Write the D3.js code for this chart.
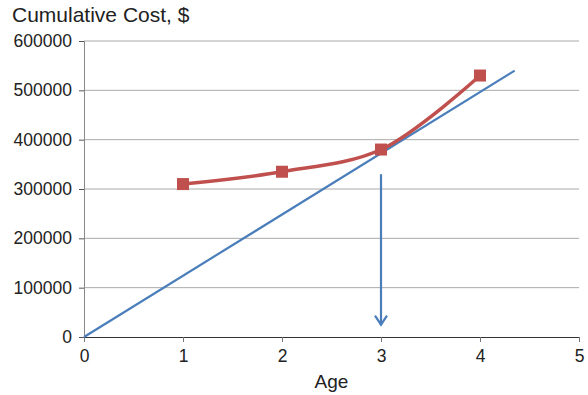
<!doctype html>
<html>
<head>
<script src="https://d3js.org/d3.v7.min.js"></script>
<style>
  body { margin: 0; background: #fff; }
  text { font-family: "Liberation Sans", Arial, sans-serif; fill: #222; }
</style>
</head>
<body>
<script>
// data
var ages = [1, 2, 3, 4];
var costs = [310000, 335000, 380000, 530000];
var lineX = [0, 4.35];
var lineY = [0, 540000];
var arrowX = [3, 3];
var arrowY = [330000, 25000];
var xTicks = [0, 1, 2, 3, 4, 5];
var yTicks = [0, 100000, 200000, 300000, 400000, 500000, 600000];

var width = 588, height = 395;
var plotLeft = 84, plotRight = 579, plotTop = 41, plotBottom = 337;

var svg = d3.select("body").append("svg")
    .attr("width", width)
    .attr("height", height);

var x = d3.scaleLinear().domain([0, 5]).range([plotLeft, plotRight]);
var y = d3.scaleLinear().domain([0, 600000]).range([plotBottom, plotTop]);

// gridlines
svg.append("g")
   .selectAll("line")
   .data(yTicks.filter(function(d) { return d > 0; }))
   .enter().append("line")
   .attr("x1", plotLeft).attr("x2", plotRight)
   .attr("y1", function(d) { return y(d); })
   .attr("y2", function(d) { return y(d); })
   .attr("stroke", "#aaa")
   .attr("stroke-width", 1);

// y axis
var yAxis = svg.append("g")
   .attr("transform", "translate(" + plotLeft + ",0)")
   .call(d3.axisLeft(y).tickValues(yTicks).tickSize(5).tickPadding(7).tickFormat(function(d) { return d; }));
yAxis.select(".domain").attr("stroke", "#888");
yAxis.selectAll(".tick line").attr("stroke", "#555");
yAxis.selectAll("text").attr("font-size", "17.5px").attr("fill", "#222");

// x axis
var xAxis = svg.append("g")
   .attr("transform", "translate(0," + plotBottom + ")")
   .call(d3.axisBottom(x).tickValues(xTicks).tickSize(5).tickPadding(8).tickFormat(d3.format("d")));
xAxis.select(".domain").attr("stroke", "#333");
xAxis.selectAll(".tick line").attr("stroke", "#777");
xAxis.selectAll("text").attr("font-size", "17.5px").attr("fill", "#222");

svg.append("text")
   .attr("x", 12)
   .attr("y", 22)
   .attr("font-size", "21px")
   .text("Cumulative Cost, $");

svg.append("text")
   .attr("x", x(2.5))
   .attr("y", 388)
   .attr("text-anchor", "middle")
   .attr("font-size", "19px")
   .text("Age");

// straight blue line
var blue = "#4a7ebb";
svg.append("line")
   .attr("x1", x(lineX[0])).attr("y1", y(lineY[0]))
   .attr("x2", x(lineX[1])).attr("y2", y(lineY[1]))
   .attr("stroke", blue)
   .attr("stroke-width", 2.2);

// arrow
svg.append("line")
   .attr("x1", x(arrowX[0])).attr("y1", y(arrowY[0]))
   .attr("x2", x(arrowX[1])).attr("y2", y(arrowY[1]))
   .attr("stroke", blue)
   .attr("stroke-width", 2.2);
var ax = x(arrowX[1]), ay = y(arrowY[1]);
svg.append("path")
   .attr("d", "M" + (ax - 6) + "," + (ay - 9) + "L" + ax + "," + ay + "L" + (ax + 6) + "," + (ay - 9))
   .attr("fill", "none")
   .attr("stroke", blue)
   .attr("stroke-width", 2.2);

// red cost curve
var red = "#c0504d";
var pts = ages.map(function(a, i) { return [a, costs[i]]; });
var line = d3.line()
    .x(function(d) { return x(d[0]); })
    .y(function(d) { return y(d[1]); })
    .curve(d3.curveCatmullRom.alpha(0.5));

svg.append("path")
   .datum(pts)
   .attr("d", line)
   .attr("fill", "none")
   .attr("stroke", red)
   .attr("stroke-width", 3.5);

svg.selectAll(".pt")
   .data(pts)
   .enter().append("rect")
   .attr("class", "pt")
   .attr("x", function(d) { return x(d[0]) - 6; })
   .attr("y", function(d) { return y(d[1]) - 6; })
   .attr("width", 12)
   .attr("height", 12)
   .attr("fill", red);
</script>
</body>
</html>
